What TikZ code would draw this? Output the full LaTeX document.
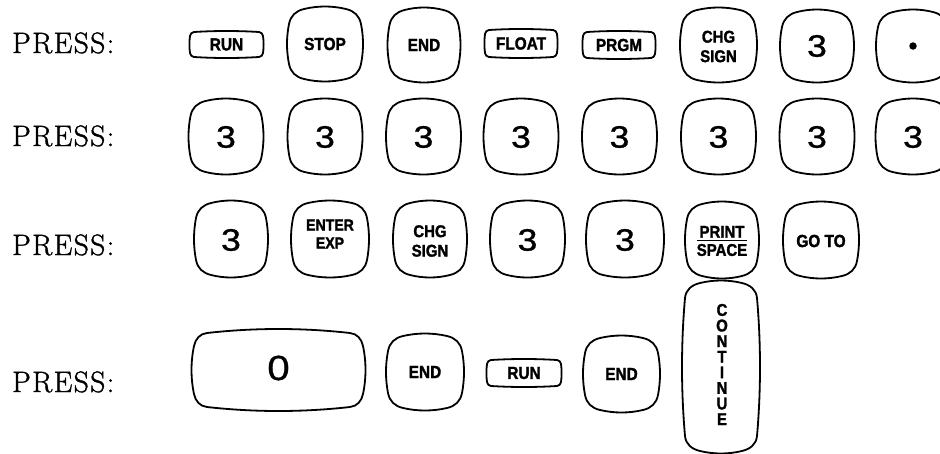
\documentclass[tikz,border=0pt]{standalone}
\usepackage{fontspec}
\newfontfamily\keyfont[FakeStretch=0.88,FakeBold=1.6]{Liberation Sans}
\newfontfamily\digfont[FakeStretch=1.15,FakeBold=0.8]{Liberation Sans}
\newfontfamily\pressfont[LetterSpace=5,FakeBold=1.3]{Latin Modern Roman}
\newcommand\keyoutline[7]{%
\pgfmathsetmacro\kA{#3}%
\pgfmathsetmacro\kB{#4}%
\pgfmathsetmacro\kAr{#3-#5}%
\pgfmathsetmacro\kBr{#4-#5}%
\pgfmathsetmacro\kC{0.55*#5}%
\pgfmathsetmacro\kT{0.55*#5*2*#7/(#3-#5)}%
\pgfmathsetmacro\kS{0.55*#5*2*#6/(#4-#5)}%
\pgfmathsetmacro\kX{4*#6/3}%
\pgfmathsetmacro\kY{4*#7/3}%
\draw[keyline,shift={(#1,#2)}]
 (-\kAr,\kB) .. controls (-\kAr/3,\kB+\kY) and (\kAr/3,\kB+\kY) .. (\kAr,\kB)
 .. controls (\kAr+\kC,\kB-\kT) and (\kA-\kS,\kBr+\kC) .. (\kA,\kBr)
 .. controls (\kA+\kX,\kBr/3) and (\kA+\kX,-\kBr/3) .. (\kA,-\kBr)
 .. controls (\kA-\kS,-\kBr-\kC) and (\kAr+\kC,-\kB+\kT) .. (\kAr,-\kB)
 .. controls (\kAr/3,-\kB-\kY) and (-\kAr/3,-\kB-\kY) .. (-\kAr,-\kB)
 .. controls (-\kAr-\kC,-\kB+\kT) and (-\kA+\kS,-\kBr-\kC) .. (-\kA,-\kBr)
 .. controls (-\kA-\kX,-\kBr/3) and (-\kA-\kX,\kBr/3) .. (-\kA,\kBr)
 .. controls (-\kA+\kS,\kBr+\kC) and (-\kAr-\kC,\kB-\kT) .. (-\kAr,\kB) -- cycle;}
\tikzset{
 keyline/.style={line width=1.8pt, line join=round},
 lbl/.style={inner sep=0pt, align=center, font=\keyfont\bfseries\fontsize{17.5}{20}\selectfont},
 lbltwo/.style={lbl, font=\keyfont\bfseries\fontsize{17}{19.5}\selectfont},
 lblsmall/.style={lbl, font=\keyfont\bfseries\fontsize{16}{18}\selectfont},
 lblcont/.style={lbl, font=\keyfont\bfseries\fontsize{17}{15.6}\selectfont},
 dig/.style={inner sep=0pt, font=\digfont\fontsize{31}{36}\selectfont},
 bigdig/.style={inner sep=0pt, font=\digfont\fontsize{35}{40}\selectfont},
 press/.style={inner sep=0pt, anchor=base west, font=\pressfont\fontsize{29.5}{36}\selectfont},
 dotmark/.style={circle, fill=black, inner sep=0pt, minimum size=7.5pt},
}
\begin{document}
\begin{tikzpicture}[x=1pt,y=-1pt]
\useasboundingbox (0,0) rectangle (940,453);
% PRESS labels
\node[press] (p1) at (12,53) {PRESS:};
\node[press] (p2) at (12,146) {PRESS:};
\node[press] (p3) at (12,255) {PRESS:};
\node[press] (p4) at (12,392) {PRESS:};
% Row 1
\keyoutline{226.5}{44.5}{36.5}{12.5}{4}{0.6}{1}
\node[lbl] (r1run) at (226.5,44.5) {RUN};
\keyoutline{325}{44}{36}{35}{15}{2}{2.5}
\node[lbl] (r1stop) at (325,44) {STOP};
\keyoutline{424}{45}{34.5}{35}{15}{2}{2.5}
\node[lbl] (r1end) at (424,45) {END};
\keyoutline{521}{43.5}{36}{13.5}{4}{0.6}{1}
\node[lbl] (r1float) at (521,43.5) {FLOAT};
\keyoutline{619}{45}{36}{13}{4}{0.6}{1}
\node[lbl] (r1prgm) at (619,45) {PRGM};
\keyoutline{718.5}{45}{36.5}{35}{15}{2}{2.5}
\node[lbltwo] (r1chg) at (718.5,46.5) {CHG\\SIGN};
\keyoutline{817}{46}{35}{34}{15}{2}{2.5}
\node[dig] (r1three) at (817,46) {3};
\keyoutline{913}{46}{35}{34}{15}{2}{2.5}
\node[dotmark] (r1dot) at (913,46) {};
% Row 2
\keyoutline{226}{136.5}{35.5}{35.5}{15}{2}{2.5}
\node[dig] (r2a) at (226,137) {3};
\keyoutline{325}{136.5}{35.5}{35.5}{15}{2}{2.5}
\node[dig] (r2b) at (325,137) {3};
\keyoutline{423.5}{136.5}{35.5}{35.5}{15}{2}{2.5}
\node[dig] (r2c) at (423.5,137) {3};
\keyoutline{521}{136.5}{35.5}{35.5}{15}{2}{2.5}
\node[dig] (r2d) at (521,137) {3};
\keyoutline{619.5}{136.5}{35.5}{35.5}{15}{2}{2.5}
\node[dig] (r2e) at (619.5,137) {3};
\keyoutline{718.5}{136.5}{35.5}{35.5}{15}{2}{2.5}
\node[dig] (r2f) at (718.5,137) {3};
\keyoutline{817}{136.5}{35.5}{35.5}{15}{2}{2.5}
\node[dig] (r2g) at (817,137) {3};
\keyoutline{913}{136.5}{35.5}{35.5}{15}{2}{2.5}
\node[dig] (r2h) at (913,137) {3};
% Row 3
\keyoutline{231}{239}{35}{36}{15}{2}{2.5}
\node[dig] (r3a) at (231,240) {3};
\keyoutline{330}{239}{37}{36}{15}{2}{2.5}
\node[lblsmall] (r3enter) at (330,234) {ENTER\\EXP};
\keyoutline{430}{239}{35}{36}{15}{2}{2.5}
\node[lbltwo] (r3chg) at (430,241) {CHG\\SIGN};
\keyoutline{527.5}{239}{35.5}{36}{15}{2}{2.5}
\node[dig] (r3b) at (527.5,240) {3};
\keyoutline{625}{239}{37}{36}{15}{2}{2.5}
\node[dig] (r3c) at (625,240) {3};
\keyoutline{722}{240}{35}{36}{15}{2}{2.5}
\node[inner sep=0pt, font=\keyfont\bfseries\fontsize{17}{18}\selectfont] (r3print) at (722,241)
 {\vbox{\hbox to 50pt{\hss PRINT\hss}\kern2pt\hrule height 1.8pt\kern2.5pt\hbox to 50pt{\hss SPACE\hss}}};
\keyoutline{821}{240}{36}{36}{15}{2}{2.5}
\node[lbl] (r3goto) at (821,241) {GO TO};
% Row 4
\keyoutline{278.5}{370}{84.5}{37}{13}{2.5}{4}
\node[bigdig] (r4zero) at (278.5,368) {0};
\keyoutline{425}{372}{37}{36}{15}{2}{2.5}
\node[lbl] (r4end) at (425,372) {END};
\keyoutline{524}{373}{37}{13}{4}{0.6}{1}
\node[lbl] (r4run) at (524,373) {RUN};
\keyoutline{621.5}{374}{36.5}{36}{15}{2}{2.5}
\node[lbl] (r4end2) at (621.5,374) {END};
\keyoutline{721}{367}{36}{84}{15}{3}{2.5}
\node[lblcont] (r4cont) at (722,364.5) {C\\O\\N\\T\\I\\N\\U\\E};
\end{tikzpicture}
\end{document}
